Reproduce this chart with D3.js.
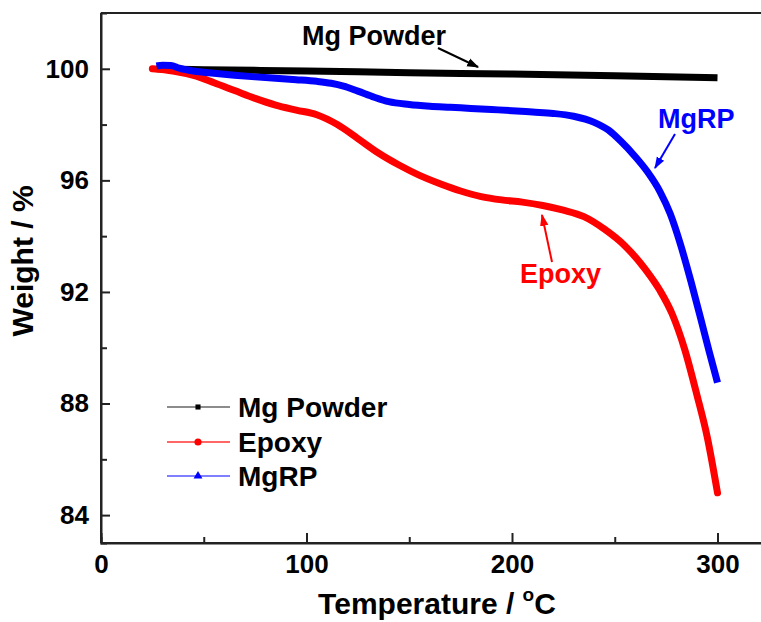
<!DOCTYPE html>
<html>
<head>
<meta charset="utf-8">
<script src="https://cdn.jsdelivr.net/npm/d3@7"></script>
<style>
  html, body { margin: 0; padding: 0; background: #fff; }
  svg { display: block; font-family: "Liberation Sans", Arial, sans-serif; font-weight: bold; }
</style>
</head>
<body>
<svg id="chart" width="761" height="622"></svg>
<script>
// TGA curves: temperature (°C) vs. residual weight (%)
const mgPowderT = [27, 50, 100, 150, 200, 250, 300];
const mgPowderW = [100.0, 99.97, 99.92, 99.86, 99.81, 99.75, 99.68];

const epoxyT = [25, 35, 45, 55, 65, 75, 85, 95, 105, 115, 125, 135, 145, 155, 165, 175, 185, 195, 205, 215, 225, 235, 245, 255, 265, 272, 278, 284, 290, 295, 300];
const epoxyW = [100.0, 99.92, 99.76, 99.5, 99.22, 98.94, 98.7, 98.52, 98.35, 98.0, 97.5, 96.98, 96.55, 96.18, 95.88, 95.62, 95.42, 95.3, 95.22, 95.1, 94.93, 94.7, 94.25, 93.65, 92.8, 92.05, 91.2, 89.95, 88.3, 86.8, 84.8];

const mgrpT = [27, 30, 34, 38, 45, 55, 65, 75, 85, 95, 105, 112, 118, 125, 133, 140, 150, 160, 170, 180, 190, 200, 210, 220, 230, 240, 247, 253, 260, 266, 272, 277, 282, 287, 292, 296, 300];
const mgrpW = [100.1, 100.13, 100.12, 100.02, 99.92, 99.84, 99.77, 99.71, 99.66, 99.61, 99.55, 99.48, 99.38, 99.2, 98.98, 98.82, 98.72, 98.66, 98.62, 98.58, 98.54, 98.5, 98.45, 98.4, 98.3, 98.08, 97.8, 97.4, 96.85, 96.3, 95.6, 94.8, 93.7, 92.4, 91.0, 89.85, 88.75];

const xTicks = [0, 100, 200, 300];
const xMinorTicks = [50, 150, 250, 350];
const yTicks = [84, 88, 92, 96, 100];
const yMinorTicks = [86, 90, 94, 98];

const seriesNames = ["Mg Powder", "Epoxy", "MgRP"];
const seriesColors = ["#000000", "#ff0000", "#0000ff"];
const legendLineColors = ["#666666", "#ff3333", "#5555ff"];

const svg = d3.select("#chart");
const plotLeft = 101, plotTop = 13, plotBottom = 543;

const x = d3.scaleLinear().domain([0, 330]).range([plotLeft, plotLeft + 330 * 2.055]);
const y = d3.scaleLinear().domain([83, 102]).range([plotBottom, plotTop]);

// frame top edge (right edge lies past the page)
svg.append("line")
  .attr("x1", plotLeft).attr("x2", 761).attr("y1", plotTop).attr("y2", plotTop)
  .attr("stroke", "#222").attr("stroke-width", 2);

// axes with inward ticks
const xAxis = svg.append("g").attr("transform", `translate(0,${plotBottom})`)
  .call(d3.axisBottom(x).tickValues(xTicks).tickSize(-10).tickPadding(12).tickFormat(d3.format("d")));
svg.append("g").attr("transform", `translate(0,${plotBottom})`)
  .call(d3.axisBottom(x).tickValues(xMinorTicks).tickSize(-6).tickFormat(""));
const yAxis = svg.append("g").attr("transform", `translate(${plotLeft},0)`)
  .call(d3.axisLeft(y).tickValues(yTicks).tickSize(-9).tickPadding(12).tickFormat(d3.format("d")));
svg.append("g").attr("transform", `translate(${plotLeft},0)`)
  .call(d3.axisLeft(y).tickValues(yMinorTicks).tickSize(-6).tickFormat(""));

svg.selectAll(".domain").attr("stroke", "#222").attr("stroke-width", 2);
svg.selectAll(".tick line").attr("stroke", "#222").attr("stroke-width", 2);
svg.selectAll(".tick text")
  .attr("font-family", "'Liberation Sans', Arial, sans-serif")
  .attr("font-weight", "bold").attr("font-size", 26).attr("fill", "#000");
// stretch the x domain line to the page edge
xAxis.select(".domain").attr("d", `M${plotLeft},0H761`);
yAxis.select(".domain").attr("d", `M0,${plotTop}V${plotBottom}`);

// curves
const line = d3.line().x(d => x(d[0])).y(d => y(d[1])).curve(d3.curveMonotoneX);
const series = [
  d3.zip(mgPowderT, mgPowderW),
  d3.zip(epoxyT, epoxyW),
  d3.zip(mgrpT, mgrpW)
];
series.forEach((pts, i) => {
  svg.append("path")
    .attr("d", line(pts))
    .attr("fill", "none")
    .attr("stroke", seriesColors[i])
    .attr("stroke-width", 7)
    .attr("stroke-linecap", i === 1 ? "round" : "butt")
    .attr("stroke-linejoin", "round");
});

// axis titles
svg.append("text")
  .attr("x", 437).attr("y", 614)
  .attr("text-anchor", "middle").attr("font-size", 30)
  .call(t => {
    t.append("tspan").text("Temperature / ");
    t.append("tspan").text("o").attr("font-size", 19).attr("dy", -13);
    t.append("tspan").text("C").attr("dy", 13);
  });

svg.append("text")
  .attr("transform", "translate(33,261) rotate(-90)")
  .attr("text-anchor", "middle").attr("font-size", 30)
  .text("Weight / %");

// legend
const legendY = [407, 442, 476];
seriesNames.forEach((name, i) => {
  const g = svg.append("g");
  g.append("line")
    .attr("x1", 167).attr("x2", 230).attr("y1", legendY[i]).attr("y2", legendY[i])
    .attr("stroke", legendLineColors[i]).attr("stroke-width", 1.5);
  const sym = [d3.symbolSquare, d3.symbolCircle, d3.symbolTriangle][i];
  const size = [26, 40, 34][i];
  g.append("path")
    .attr("d", d3.symbol(sym, size)())
    .attr("transform", `translate(198,${legendY[i]})`)
    .attr("fill", seriesColors[i]);
  g.append("text")
    .attr("x", 238).attr("y", legendY[i] + 10)
    .attr("font-size", 28).attr("fill", "#000")
    .text(name);
});

// annotation arrows
const defs = svg.append("defs");
seriesColors.forEach((c, i) => {
  defs.append("marker")
    .attr("id", "arrow" + i)
    .attr("viewBox", "0 0 10 10")
    .attr("refX", 9).attr("refY", 5)
    .attr("markerWidth", 6).attr("markerHeight", 6)
    .attr("markerUnits", "strokeWidth")
    .attr("orient", "auto")
    .append("path").attr("d", "M0,1.5L10,5L0,8.5Z").attr("fill", c);
});

const notes = [
  { text: "Mg Powder", tx: 302, ty: 45, x1: 438, y1: 48, x2: 478, y2: 67 },
  { text: "Epoxy", tx: 520, ty: 283, x1: 552, y1: 262, x2: 542, y2: 215 },
  { text: "MgRP", tx: 658, ty: 128, x1: 675, y1: 134, x2: 655, y2: 168 }
];
notes.forEach((n, i) => {
  svg.append("line")
    .attr("x1", n.x1).attr("y1", n.y1).attr("x2", n.x2).attr("y2", n.y2)
    .attr("stroke", seriesColors[i]).attr("stroke-width", 2)
    .attr("marker-end", `url(#arrow${i})`);
  svg.append("text")
    .attr("x", n.tx).attr("y", n.ty)
    .attr("font-size", 27).attr("fill", seriesColors[i])
    .text(n.text);
});
</script>
</body>
</html>
